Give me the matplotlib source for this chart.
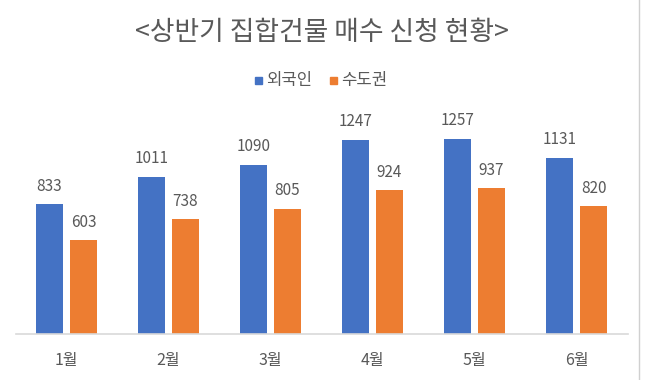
import matplotlib
matplotlib.use('Agg')
import matplotlib.pyplot as plt
import numpy as np
from matplotlib.lines import Line2D
from matplotlib.patches import Rectangle

plt.rcParams['font.family'] = ['Noto Sans CJK KR', 'DejaVu Sans']

months = ['1월', '2월', '3월', '4월', '5월', '6월']
foreigner = [833, 1011, 1090, 1247, 1257, 1131]
capital = [603, 738, 805, 924, 937, 820]
series_names = ['외국인', '수도권']
title = '<상반기 집합건물 매수 신청 현황>'

blue = '#4472C4'
orange = '#ED7D31'
txt = '#595959'

W, H = 647, 380
fig = plt.figure(figsize=(W / 100, H / 100), dpi=100)
fig.patch.set_facecolor('white')

# axes placed in pixel terms
left, right, bottom, top = 15.5, 627.5, 334, 116.3
ax = fig.add_axes([left / W, 1 - bottom / H, (right - left) / W, (bottom - top) / H])

x = np.arange(len(months))
w = 0.265
off = 0.167
b1 = ax.bar(x - off, foreigner, w, color=blue)
b2 = ax.bar(x + off, capital, w, color=orange)

for bars, vals in ((b1, foreigner), (b2, capital)):
    for r, v in zip(bars, vals):
        ax.annotate(str(v), (r.get_x() + r.get_width() / 2, v), xytext=(0, 7),
                    textcoords='offset points', ha='center', va='bottom',
                    fontsize=11, color=txt)

ax.set_xlim(-0.5, len(months) - 0.5)
ax.set_ylim(0, 1400)
ax.set_yticks([])
ax.set_xticks(x)
ax.set_xticklabels(months, fontsize=11.5, color=txt)
ax.tick_params(axis='x', length=0, pad=13)
for s in ['top', 'right', 'left']:
    ax.spines[s].set_visible(False)
ax.spines['bottom'].set_color('#D9D9D9')
ax.spines['bottom'].set_linewidth(1.2)

fig.text(322 / W, 1 - 33 / H, title, ha='center', va='center', fontsize=19.3, color=txt)

# legend
fig.add_artist(Rectangle((255 / W, 1 - 83.5 / H), 7 / W, 7 / H, color=blue, transform=fig.transFigure))
fig.text(266 / W, 1 - 80 / H, series_names[0], ha='left', va='center', fontsize=12, color=txt)
fig.add_artist(Rectangle((330 / W, 1 - 83.5 / H), 7 / W, 7 / H, color=orange, transform=fig.transFigure))
fig.text(341 / W, 1 - 80 / H, series_names[1], ha='left', va='center', fontsize=12, color=txt)

# thin border at right edge of the screenshot
fig.add_artist(Line2D([638.5 / W, 638.5 / W], [0, 1], color='#D0D0D0', lw=1, transform=fig.transFigure))

fig.savefig('out.png', dpi=100)
